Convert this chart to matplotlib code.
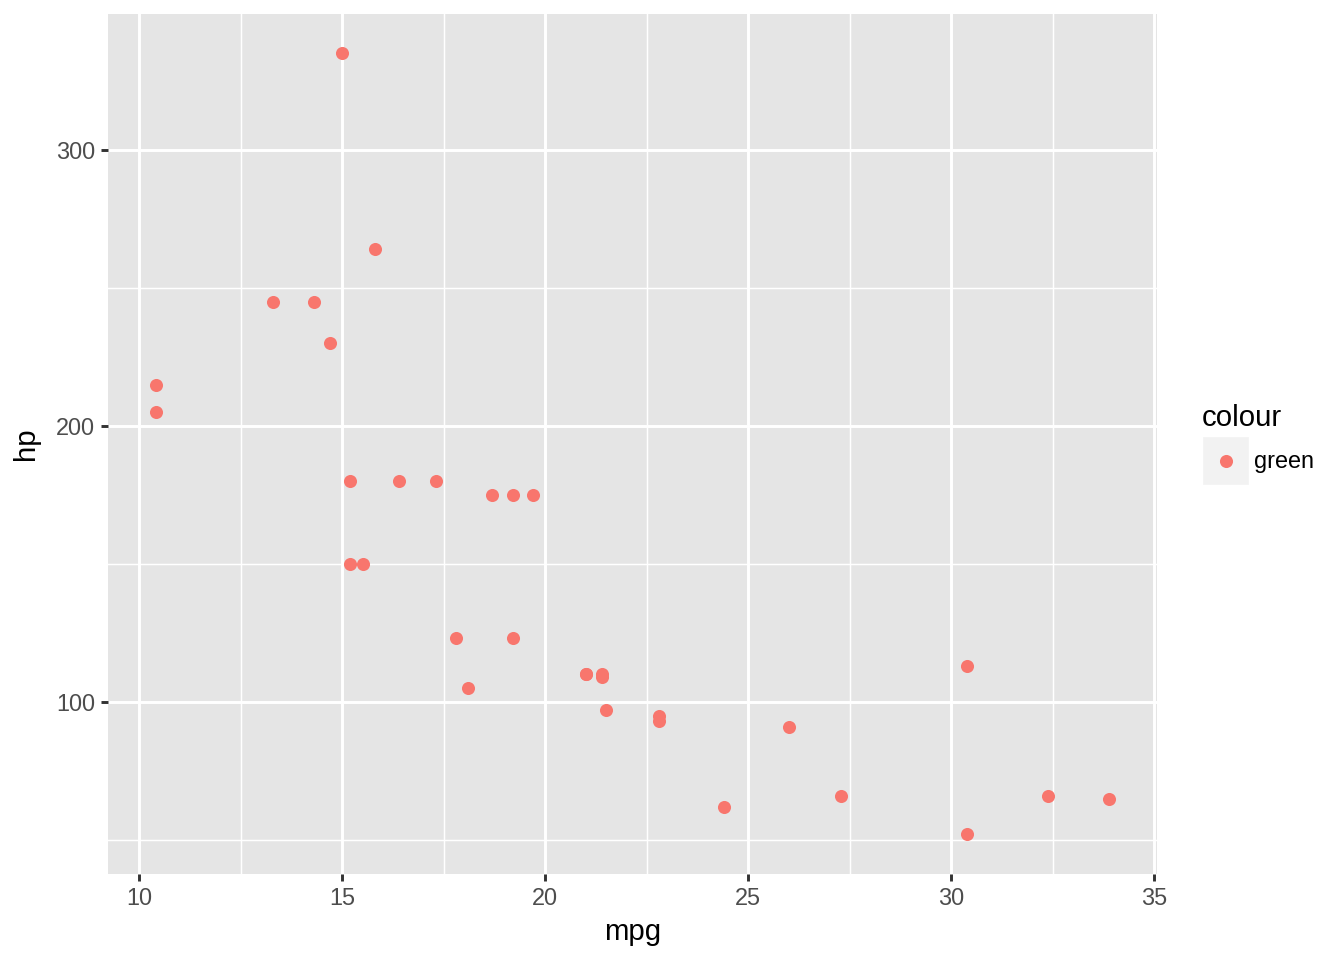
import matplotlib.pyplot as plt
from matplotlib.patches import Rectangle
from matplotlib.lines import Line2D

# mtcars: mpg vs hp
mpg = [21.0, 21.0, 22.8, 21.4, 18.7, 18.1, 14.3, 24.4, 22.8, 19.2, 17.8, 16.4,
       17.3, 15.2, 10.4, 10.4, 14.7, 32.4, 30.4, 33.9, 21.5, 15.5, 15.2, 13.3,
       19.2, 27.3, 26.0, 30.4, 15.8, 19.7, 15.0, 21.4]
hp = [110, 110, 93, 110, 175, 105, 245, 62, 95, 123, 123, 180,
      180, 180, 205, 215, 230, 66, 52, 65, 97, 150, 150, 245,
      175, 66, 91, 113, 264, 175, 335, 109]
x_ticks = [10, 15, 20, 25, 30, 35]
x_minor = [12.5, 17.5, 22.5, 27.5, 32.5]
y_ticks = [100, 200, 300]
y_minor = [50, 150, 250]

point_col = '#F8766D'
W, H = 1344, 960

plt.rcParams['font.family'] = ['Liberation Sans', 'DejaVu Sans']
fig = plt.figure(figsize=(7, 5), dpi=192)
ax = fig.add_axes([108 / W, 1 - 873.5 / H, (1157 - 108) / W, (873.5 - 14.3) / H])
ax.set_facecolor('#E5E5E5')

ax.scatter(mpg, hp, s=24, color=point_col, linewidths=0, zorder=3)

xr = max(mpg) - min(mpg)
yr = max(hp) - min(hp)
ax.set_xlim(min(mpg) - 0.05 * xr, max(mpg) + 0.05 * xr)
ax.set_ylim(min(hp) - 0.05 * yr, max(hp) + 0.05 * yr)

ax.set_xticks(x_ticks)
ax.set_yticks(y_ticks)
ax.set_xticks(x_minor, minor=True)
ax.set_yticks(y_minor, minor=True)
ax.grid(which='major', color='white', linewidth=1.1)
ax.grid(which='minor', color='white', linewidth=0.55)
ax.set_axisbelow(True)
ax.tick_params(which='major', length=2.75, width=1.1, color='#333333',
               labelsize=8.8, labelcolor='#4D4D4D', pad=2.2)
ax.tick_params(which='minor', length=0)
for s in ax.spines.values():
    s.set_visible(False)

ax.set_xlabel('mpg', fontsize=11, labelpad=3.2)
ax.set_ylabel('hp', fontsize=11, labelpad=6)

# legend drawn by hand
fig.text(1202 / W, 1 - 418 / H, 'colour', fontsize=11, ha='left', va='center')
fig.patches.append(Rectangle((1204 / W, 1 - 483 / H), 43 / W, 45 / H,
                             transform=fig.transFigure, color='#F2F2F2'))
fig.add_artist(Line2D([1226 / W], [1 - 461 / H], marker='o', markersize=4.9,
                      markerfacecolor=point_col, markeredgewidth=0,
                      transform=fig.transFigure))
fig.text(1254 / W, 1 - 462 / H, 'green', fontsize=8.8, ha='left', va='center')

fig.savefig('out.png', dpi=192)
